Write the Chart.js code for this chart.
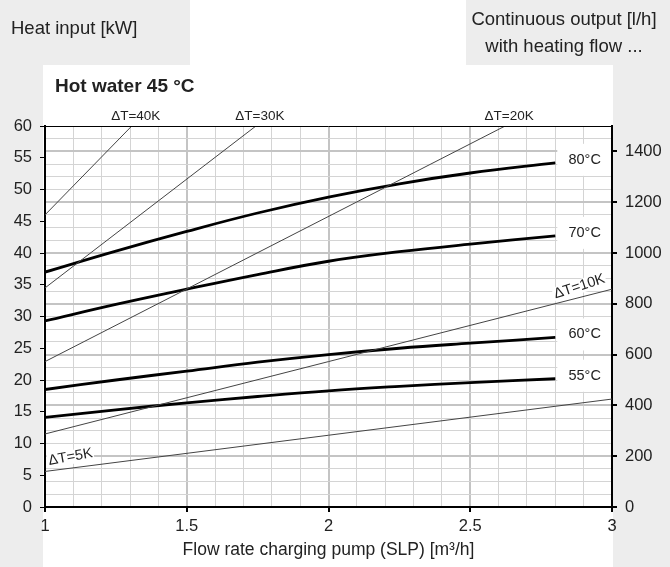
<!DOCTYPE html>
<html>
<head>
<meta charset="utf-8">
<script src="https://cdn.jsdelivr.net/npm/chart.js@4.4.1/dist/chart.umd.min.js"></script>
<style>
  body { margin: 0; background: #fff; font-family: "Liberation Sans", Arial, sans-serif; color: #222; }
  #wrap { position: relative; width: 670px; height: 567px; overflow: hidden; }
  .gray { position: absolute; background: #ededed; }
  .txt { position: absolute; z-index: 2; white-space: nowrap; }
  canvas { position: absolute; left: 0; top: 0; z-index: 1; }
</style>
</head>
<body>
<div id="wrap">
  <div class="gray" style="left:0;top:0;width:43px;height:567px"></div>
  <div class="gray" style="left:0;top:0;width:190px;height:65px"></div>
  <div class="gray" style="left:466px;top:0;width:204px;height:65px"></div>
  <div class="gray" style="left:613px;top:0;width:57px;height:567px"></div>
  <canvas id="myChart" width="670" height="567"></canvas>
  <div class="txt" style="left:11px;top:17px;font-size:18.5px">Heat input [kW]</div>
  <div class="txt" style="left:466px;top:5px;width:196px;font-size:18.5px;line-height:27px;text-align:center">Continuous output [l/h]<br>with heating flow ...</div>
  <div class="txt" style="left:55px;top:75px;font-size:19px;font-weight:bold">Hot water 45 °C</div>
</div>
<script>
// flow rate charging pump [m3/h]
const flow = [1, 1.25, 1.5, 1.75, 2, 2.25, 2.5, 2.8];
// heat input [kW] per heating flow temperature
const out80 = [37.0, 40.3, 43.4, 46.3, 48.8, 50.9, 52.6, 54.2];
const out70 = [29.3, 31.9, 34.3, 36.6, 38.7, 40.2, 41.4, 42.7];
const out60 = [18.5, 20.0, 21.4, 22.8, 24.0, 25.0, 25.8, 26.7];
const out55 = [14.1, 15.3, 16.4, 17.4, 18.3, 19.0, 19.6, 20.2];
const tempLabels = ["80°C", "70°C", "60°C", "55°C"];

// delta T lines (start / end points)
const dt40X = [1, 1.306], dt40Y = [46.0, 60];
const dt30X = [1, 1.744], dt30Y = [34.5, 60];
const dt20X = [1, 2.623], dt20Y = [22.9, 60];
const dt10X = [1, 3], dt10Y = [11.5, 34.3];
const dt5X = [1, 3], dt5Y = [5.6, 17.0];
const dtLabels = ["ΔT=40K", "ΔT=30K", "ΔT=20K", "ΔT=10K", "ΔT=5K"];

const FONT = '"Liberation Sans", Arial, sans-serif';
const pts = (xs, ys) => xs.map((v, i) => ({ x: v, y: ys[i] }));
const isMajor = (v, step) => Math.abs(v / step - Math.round(v / step)) < 1e-6;

function thin(xs, ys) {
    return { data: pts(xs, ys), borderColor: "#444", borderWidth: 1, pointRadius: 0, tension: 0 };
}
function thick(ys) {
    return { data: pts(flow, ys), borderColor: "#000", borderWidth: 2.8, pointRadius: 0, tension: 0.4 };
}

const thinSets = [[dt40X, dt40Y], [dt30X, dt30Y], [dt20X, dt20Y], [dt10X, dt10Y], [dt5X, dt5Y]];
const thickSets = [out80, out70, out60, out55];

const labelPlugin = {
    id: "labels",
    beforeDatasetsDraw(chart) {
        const { ctx, chartArea: a, scales: { x, y } } = chart;
        ctx.save();
        // temperature label boxes
        const x0 = x.getPixelForValue(flow[flow.length - 1]) + 2;
        thickSets.forEach((d, i) => {
            const yy = y.getPixelForValue(d[d.length - 1]) - 3;
            ctx.fillStyle = "#fff";
            ctx.fillRect(x0, yy - 16, a.right - x0 - 1, 32);
            ctx.fillStyle = "#222";
            ctx.font = "14.5px " + FONT;
            ctx.textAlign = "center";
            ctx.textBaseline = "middle";
            ctx.fillText(tempLabels[i], (x0 + a.right) / 2, yy);
        });
        ctx.restore();
    },
    afterDatasetsDraw(chart) {
        const { ctx, chartArea: a, scales: { x, y } } = chart;
        ctx.save();
        ctx.font = "13.5px " + FONT;
        ctx.fillStyle = "#222";
        ctx.textAlign = "center";
        ctx.textBaseline = "middle";
        // labels above the plot where the line leaves the top
        for (let i = 0; i < 3; i++) {
            const xs = thinSets[i][0];
            ctx.fillText(dtLabels[i], x.getPixelForValue(xs[xs.length - 1]) + 4, a.top - 10);
        }
        // rotated labels along the low lines
        ctx.font = "14.5px " + FONT;
        [[3, 2.885, 1.25], [4, 1.09, 1.4]].forEach(([i, at, k]) => {
            const [xs, ys] = thinSets[i];
            const px0 = x.getPixelForValue(xs[0]), py0 = y.getPixelForValue(ys[0]);
            const px1 = x.getPixelForValue(xs[1]), py1 = y.getPixelForValue(ys[1]);
            const ang = Math.atan2(py1 - py0, px1 - px0) * k;
            const yv = ys[0] + (ys[1] - ys[0]) * (at - xs[0]) / (xs[1] - xs[0]);
            const cx = x.getPixelForValue(at), cy = y.getPixelForValue(yv) - 11;
            ctx.save();
            ctx.translate(cx, cy);
            ctx.rotate(ang);
            const w = ctx.measureText(dtLabels[i]).width;
            ctx.fillStyle = "#fff";
            ctx.fillRect(-w / 2 - 1, -7, w + 2, 14);
            ctx.fillStyle = "#222";
            ctx.fillText(dtLabels[i], 0, 0);
            ctx.restore();
        });
        // top border
        ctx.strokeStyle = "#000";
        ctx.lineWidth = 1;
        ctx.beginPath();
        ctx.moveTo(a.left, a.top + 0.5);
        ctx.lineTo(a.right, a.top + 0.5);
        ctx.stroke();
        ctx.restore();
    }
};

let ctx = document.getElementById("myChart");
let myChart = new Chart(ctx, {
    type: "line",
    data: {
        datasets: thinSets.map(s => thin(s[0], s[1])).concat(thickSets.map(thick))
    },
    options: {
        responsive: false,
        animation: false,
        layout: { padding: { top: 126, left: 0, right: 0, bottom: 0 } },
        plugins: { legend: { display: false }, tooltip: { enabled: false } },
        scales: {
            x: {
                type: "linear",
                min: 1,
                max: 3,
                afterFit: s => { s.height = 60; },
                ticks: {
                    stepSize: 0.1,
                    autoSkip: false,
                    maxRotation: 0,
                    padding: 5,
                    color: "#222",
                    font: { family: FONT, size: 16.5 },
                    callback: v => isMajor(v, 0.5) ? String(Math.round(v * 10) / 10) : ""
                },
                grid: {
                    color: c => isMajor(c.tick.value, 0.5) ? "#c4c4c4" : "#d4d4d4",
                    lineWidth: c => isMajor(c.tick.value, 0.5) ? 2 : 1,
                    tickColor: c => isMajor(c.tick.value, 0.5) ? "#000" : "rgba(0,0,0,0)",
                    tickLength: 5
                },
                border: { color: "#000", width: 2 },
                title: {
                    display: true,
                    text: "Flow rate charging pump (SLP) [m³/h]",
                    color: "#222",
                    font: { family: FONT, size: 17.5 },
                    padding: { top: 0, bottom: 6 }
                }
            },
            y: {
                position: "left",
                min: 0,
                max: 60,
                afterFit: s => { s.width = 45; },
                ticks: { stepSize: 5, padding: 8, color: "#222", font: { family: FONT, size: 16.5 } },
                grid: { drawOnChartArea: false, tickColor: "#000", tickLength: 5 },
                border: { color: "#000", width: 2 }
            },
            y2: {
                position: "right",
                min: 0,
                max: 1500,
                afterFit: s => { s.width = 58; },
                ticks: {
                    stepSize: 50,
                    autoSkip: false,
                    padding: 8,
                    color: "#222",
                    font: { family: FONT, size: 16.5 },
                    callback: v => v % 200 === 0 ? String(v) : ""
                },
                grid: {
                    color: c => c.tick.value % 200 === 0 ? "#c4c4c4" : "#d4d4d4",
                    lineWidth: c => c.tick.value % 200 === 0 ? 2 : 1,
                    tickColor: c => c.tick.value % 200 === 0 ? "#000" : "rgba(0,0,0,0)",
                    tickLength: 5
                },
                border: { color: "#000", width: 2 }
            }
        }
    },
    plugins: [labelPlugin]
});
</script>
</body>
</html>
